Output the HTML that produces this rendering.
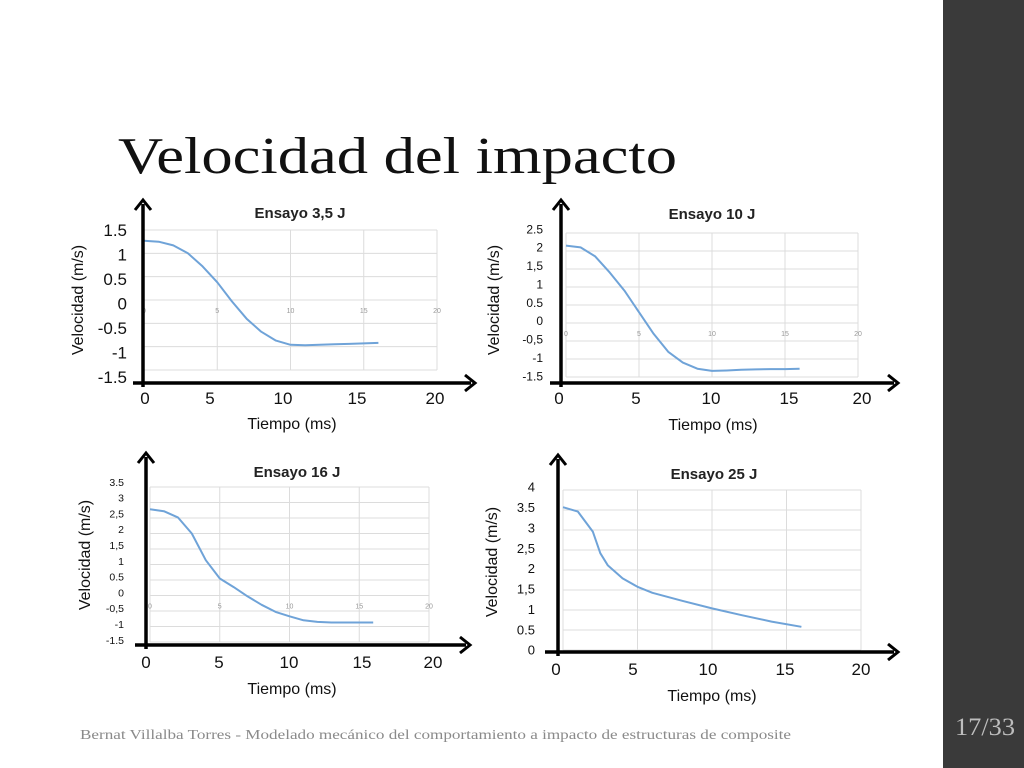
<!DOCTYPE html>
<html><head><meta charset="utf-8"><style>
html,body{margin:0;padding:0;background:#fff;}
svg{display:block;}
.s{font-family:"Liberation Sans","DejaVu Sans",sans-serif;}
</style></head><body>
<svg id="slide" width="1024" height="768" viewBox="0 0 1024 768" xmlns="http://www.w3.org/2000/svg">
<rect x="943" y="0" width="81" height="768" fill="#3a3a3a"/>
<text x="118" y="173" font-family="Liberation Serif, serif" font-size="52" textLength="559" lengthAdjust="spacingAndGlyphs" fill="#111">Velocidad del impacto</text>
<text x="955" y="735" font-family="Liberation Serif, serif" font-size="25" fill="#bdbdbd" textLength="60" lengthAdjust="spacingAndGlyphs">17/33</text>
<text x="80" y="739" font-family="Liberation Serif, serif" font-size="13.5" fill="#8a8a8a" textLength="711" lengthAdjust="spacingAndGlyphs">Bernat Villalba Torres - Modelado mecánico del comportamiento a impacto de estructuras de composite</text>
<g id="charts"></g>
</svg>
<script>
// Panel data (time in ms, velocity in m/s)
const times1 = [0,1,2,3,4,5,6,7,8,9,10,11,12,13,14,15,16];
const vel1 = [1.27,1.25,1.17,1.0,0.72,0.38,-0.03,-0.4,-0.68,-0.87,-0.96,-0.97,-0.96,-0.95,-0.94,-0.93,-0.92];
const times2 = [0,1,2,3,4,5,6,7,8,9,10,11,12,13,14,15,16];
const vel2 = [2.15,2.1,1.85,1.4,0.9,0.3,-0.3,-0.8,-1.1,-1.27,-1.33,-1.32,-1.3,-1.29,-1.28,-1.28,-1.27];
const times3 = [0,1,2,3,4,5,6,7,8,9,10,11,12,13,14,15,16];
const vel3 = [2.78,2.72,2.52,2.0,1.14,0.55,0.27,-0.03,-0.3,-0.53,-0.67,-0.8,-0.85,-0.87,-0.87,-0.87,-0.87];
const times4 = [0,1,2,2.5,3,4,5,6,8,10,12,14,16];
const vel4 = [3.57,3.46,2.96,2.42,2.12,1.79,1.58,1.43,1.23,1.04,0.87,0.71,0.58];
const titles = ["Ensayo 3,5 J","Ensayo 10 J","Ensayo 16 J","Ensayo 25 J"];
const xTickVals = [0,5,10,15,20];
const xTickLabels = ["0","5","10","15","20"];
const yTickLabels1 = ["1.5","1","0.5","0","-0.5","-1","-1.5"];
const yTickLabels2 = ["2.5","2","1,5","1","0.5","0","-0,5","-1","-1.5"];
const yTickLabels3 = ["3.5","3","2,5","2","1,5","1","0.5","0","-0,5","-1","-1.5"];
const yTickLabels4 = ["4","3.5","3","2,5","2","1,5","1","0.5","0"];

const panels = [
 {t:times1,v:vel1,title:titles[0],yl:yTickLabels1,ymin:-1.5,ymax:1.5,gx0:144,gx1:437,gy0:230,gy1:370,ax:143,ay:383,atop:200,ax0:133,ax1:475,ylx:127,ylTop:230,ylBot:377,yfs:17,xly:404,xl:[145,210,283,357,435],xfs:17,tx:300,ty:218,tfs:15,yLx:83,yLy:300,xLx:292,xLy:429,inner:true},
 {t:times2,v:vel2,title:titles[1],yl:yTickLabels2,ymin:-1.5,ymax:2.5,gx0:566,gx1:858,gy0:233,gy1:377,ax:561,ay:383,atop:200,ax0:550,ax1:898,ylx:543,ylTop:229,ylBot:376,yfs:12,xly:404,xl:[559,636,711,789,862],xfs:17,tx:712,ty:219,tfs:15,yLx:499,yLy:300,xLx:713,xLy:430,inner:true},
 {t:times3,v:vel3,title:titles[2],yl:yTickLabels3,ymin:-1.5,ymax:3.5,gx0:150,gx1:429,gy0:487,gy1:642,ax:146,ay:645,atop:453,ax0:135,ax1:470,ylx:124,ylTop:482,ylBot:640,yfs:10.5,xly:668,xl:[146,219,289,362,433],xfs:17,tx:297,ty:477,tfs:15,yLx:90,yLy:555,xLx:292,xLy:694,inner:true},
 {t:times4,v:vel4,title:titles[3],yl:yTickLabels4,ymin:0,ymax:4,gx0:563,gx1:861,gy0:490,gy1:650,ax:558,ay:652,atop:455,ax0:545,ax1:898,ylx:535,ylTop:487,ylBot:650,yfs:13,xly:675,xl:[556,633,708,785,861],xfs:17,tx:714,ty:479,tfs:15,yLx:497,yLy:562,xLx:712,xLy:701,inner:false}
];
const NS="http://www.w3.org/2000/svg";
const root=document.getElementById('charts');
function mk(tag,attrs,parent,txt){const e=document.createElementNS(NS,tag);for(const k in attrs)e.setAttribute(k,attrs[k]);if(txt!==undefined)e.textContent=txt;(parent||root).appendChild(e);return e;}
panels.forEach((p,i)=>{
  const g=mk('g',{});
  
  
  const xs=t=>p.gx0+(t-0)/(20-0)*(p.gx1-p.gx0);
  const ys=v=>p.gy1-(v-p.ymin)/(p.ymax-p.ymin)*(p.gy1-p.gy0);
  // grid
  for(let v=p.ymin; v<=p.ymax+1e-9; v+=0.5){
    const l=mk('line',{x1:p.gx0,x2:p.gx1,y1:ys(v),y2:ys(v),stroke:'#dcdcdc','stroke-width':1},g);
    
    
  }
  xTickVals.forEach(t=>{
    const l=mk('line',{x1:xs(t),x2:xs(t),y1:p.gy0,y2:p.gy1,stroke:'#dcdcdc','stroke-width':1},g);
    
    
    if(p.inner){
      const tl=mk('text',{x:xs(t),y:ys(0)+13,'font-size':7,fill:'#999','text-anchor':'middle',class:'s'},g,String(t));
      
      
    }
  });
  // series
  const d=p.t.map((t,j)=>(j?'L':'M')+xs(t).toFixed(1)+' '+ys(p.v[j]).toFixed(1)).join(' ');
  const path=mk('path',{d:d,fill:'none',stroke:'#6fa3d8','stroke-width':2,'stroke-linejoin':'round'},g);
  
  
  // axes
  const va=mk('line',{x1:p.ax,x2:p.ax,y1:p.atop+4,y2:p.ay+4,stroke:'#000','stroke-width':3.5},g);
  
  
  const ha=mk('line',{x1:p.ax0,x2:p.ax1-4,y1:p.ay,y2:p.ay,stroke:'#000','stroke-width':3.5},g);
  
  
  const a1=mk('path',{d:`M${p.ax-8} ${p.atop+10} L${p.ax} ${p.atop} L${p.ax+8} ${p.atop+10}`,fill:'none',stroke:'#000','stroke-width':3},g);
  
  
  const a2=mk('path',{d:`M${p.ax1-10} ${p.ay-8} L${p.ax1} ${p.ay} L${p.ax1-10} ${p.ay+8}`,fill:'none',stroke:'#000','stroke-width':3},g);
  
  
  // outer y labels
  const n=p.yl.length;
  p.yl.forEach((lab,j)=>{
    const y=p.ylTop+j*(p.ylBot-p.ylTop)/(n-1);
    const tl=mk('text',{x:p.ylx,y:y+p.yfs*0.36,'font-size':p.yfs,fill:'#111','text-anchor':'end',class:'s'},g,lab);
    
    
  });
  xTickLabels.forEach((lab,j)=>{
    const tl=mk('text',{x:p.xl[j],y:p.xly,'font-size':p.xfs,fill:'#111','text-anchor':'middle',class:'s'},g,lab);
    
    
  });
  const tt=mk('text',{x:p.tx,y:p.ty,'font-size':p.tfs,'font-weight':'bold',fill:'#222','text-anchor':'middle',class:'s'},g,p.title);
  
  
  const yl=mk('text',{x:0,y:0,'font-size':16,fill:'#111','text-anchor':'middle',class:'s',transform:`translate(${p.yLx},${p.yLy}) rotate(-90)`},g,'Velocidad (m/s)');
  
  
  const xl=mk('text',{x:p.xLx,y:p.xLy,'font-size':16,fill:'#111','text-anchor':'middle',class:'s'},g,'Tiempo (ms)');
  
  
});
</script>
</body></html>
